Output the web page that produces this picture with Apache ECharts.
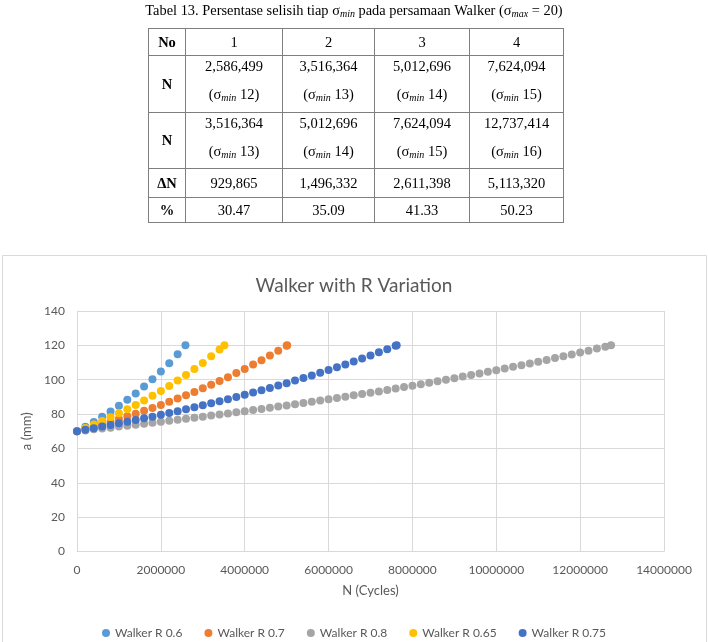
<!DOCTYPE html>
<html>
<head>
<meta charset="utf-8">
<script src="https://cdn.jsdelivr.net/npm/echarts@6/dist/echarts.min.js"></script>
<style>
  html, body { margin:0; padding:0; background:#fff; }
  #chart { position:absolute; left:0; top:0; width:708px; height:642px; }
  #cap { position:absolute; left:0; top:2px; width:708px; text-align:center;
         font-family:"Liberation Serif", serif; font-size:14.4px; line-height:17px; color:#000; z-index:2; }
  #cap sub { font-size:10px; font-style:italic; vertical-align:-2px; }
  #tbl { position:absolute; left:148px; top:28px; border-collapse:collapse; table-layout:fixed; z-index:2;
         font-family:"Liberation Serif", serif; font-size:14.5px; color:#000; }
  #tbl td { border:1px solid #7f7f7f; text-align:center; vertical-align:middle; padding:0; }
  #tbl td.h { font-weight:bold; }
  #tbl td.two { vertical-align:top; }
  #tbl td.two div.l1 { height:20px; line-height:20px; }
  #tbl td.two div.l2 { height:20px; line-height:20px; margin-top:8px; }
  #tbl sub { font-size:10px; font-style:italic; vertical-align:-2px; }
</style>
</head>
<body>
<div id="chart"></div>
<div id="cap">Tabel 13. Persentase selisih tiap σ<sub>min</sub> pada persamaan Walker (σ<sub>max</sub> = 20)</div>
<table id="tbl"></table>
<script>
// ---- table data ----
const tableCols = ["1", "2", "3", "4"];
const nFrom = ["2,586,499", "3,516,364", "5,012,696", "7,624,094"];
const sigmaFrom = ["12", "13", "14", "15"];
const nTo = ["3,516,364", "5,012,696", "7,624,094", "12,737,414"];
const sigmaTo = ["13", "14", "15", "16"];
const deltaN = ["929,865", "1,496,332", "2,611,398", "5,113,320"];
const percent = ["30.47", "35.09", "41.33", "50.23"];

// ---- chart data ----
const seriesNames = ["Walker R 0.6", "Walker R 0.7", "Walker R 0.8", "Walker R 0.65", "Walker R 0.75"];
const seriesColors = ["#5B9BD5", "#ED7D31", "#A5A5A5", "#FFC000", "#4472C4"];
const nSteps = [0,200000,400000,600000,800000,1000000,1200000,1400000,1600000,1800000,
  2000000,2200000,2400000,2600000,2800000,3000000,3200000,3400000,3600000,3800000,
  4000000,4200000,4400000,4600000,4800000,5000000,5200000,5400000,5600000,5800000,
  6000000,6200000,6400000,6600000,6800000,7000000,7200000,7400000,7600000,7800000,
  8000000,8200000,8400000,8600000,8800000,9000000,9200000,9400000,9600000,9800000,
  10000000,10200000,10400000,10600000,10800000,11000000,11200000,11400000,11600000,11800000,
  12000000,12200000,12400000,12600000];
const nFinal = [2586499, 5012696, 12737414, 3516364, 7624094];
const aR06 = [70.0,72.6,75.4,78.4,81.5,84.8,88.3,92.0,96.0,100.3,104.8,109.6,114.8,120.0];
const aR07 = [70.0,71.3,72.7,74.1,75.6,77.1,78.7,80.2,81.9,83.6,85.3,87.1,89.0,90.9,92.9,95.0,97.1,99.3,
  101.5,103.9,106.3,108.8,111.4,114.1,116.9,119.8,120.0];
const aR08 = [70.0,70.5,71.1,71.6,72.1,72.7,73.2,73.8,74.4,74.9,
  75.5,76.1,76.7,77.3,77.9,78.5,79.1,79.7,80.4,81.0,
  81.7,82.3,83.0,83.7,84.4,85.0,85.7,86.5,87.2,87.9,
  88.6,89.4,90.1,90.9,91.7,92.4,93.2,94.0,94.9,95.7,
  96.5,97.4,98.2,99.1,100.0,100.9,101.8,102.7,103.6,104.6,
  105.5,106.5,107.5,108.4,109.5,110.5,111.5,112.6,113.6,114.7,
  115.8,116.9,118.1,119.2,120.0];
const aR065 = [70.0,71.9,73.9,76.0,78.2,80.5,82.8,85.3,87.9,90.6,93.4,96.4,99.5,102.8,106.2,109.8,113.6,117.6,120.0];
const aR075 = [70.0,70.9,71.8,72.7,73.6,74.6,75.5,76.5,77.5,78.5,
  79.6,80.6,81.7,82.8,83.9,85.1,86.3,87.5,88.7,89.9,
  91.2,92.5,93.8,95.2,96.6,98.0,99.5,101.0,102.5,104.0,
  105.6,107.3,108.9,110.6,112.4,114.1,116.0,117.8,119.8,120.0];
const aValues = [aR06, aR07, aR08, aR065, aR075];
const xTicks = { min: 0, max: 14000000, interval: 2000000 };
const yTicks = { min: 0, max: 140, interval: 20 };

// ---- build table ----
(function () {
  const t = document.getElementById('tbl');
  const colW = [37, 97, 92, 95, 94];
  let html = '<colgroup>' + colW.map(w => '<col style="width:' + w + 'px">').join('') + '</colgroup>';
  const sig = s => '(σ<sub>min</sub> ' + s + ')';
  html += '<tr style="height:27px"><td class="h">No</td>' + tableCols.map(c => '<td>' + c + '</td>').join('') + '</tr>';
  html += '<tr style="height:57px"><td class="h">N</td>' + nFrom.map((v, i) => '<td class="two"><div class="l1">' + v + '</div><div class="l2">' + sig(sigmaFrom[i]) + '</div></td>').join('') + '</tr>';
  html += '<tr style="height:56px"><td class="h">N</td>' + nTo.map((v, i) => '<td class="two"><div class="l1">' + v + '</div><div class="l2">' + sig(sigmaTo[i]) + '</div></td>').join('') + '</tr>';
  html += '<tr style="height:29px"><td class="h">ΔN</td>' + deltaN.map(v => '<td>' + v + '</td>').join('') + '</tr>';
  html += '<tr style="height:25px"><td class="h">%</td>' + percent.map(v => '<td>' + v + '</td>').join('') + '</tr>';
  t.innerHTML = html;
})();

// ---- chart ----
const chart = echarts.init(document.getElementById('chart'), null, { renderer: 'canvas' });
const series = seriesNames.map((name, i) => {
  const ys = aValues[i];
  const xs = nSteps.slice(0, ys.length - 1).concat([nFinal[i]]);
  return {
    name: name,
    type: 'scatter',
    symbol: 'circle',
    symbolSize: 8,
    itemStyle: { color: seriesColors[i], opacity: 1 },
    data: ys.map((y, j) => [xs[j], y])
  };
});
const labelColor = '#595959';
const fontFam = 'Lato, "Open Sans", sans-serif';
chart.setOption({
  animation: false,
  color: seriesColors,
  textStyle: { fontFamily: fontFam },
  title: {
    text: 'Walker with R Variation',
    left: 'center',
    top: 271,
    textStyle: { fontFamily: fontFam, fontSize: 19, fontWeight: 'normal', color: labelColor }
  },
  grid: { left: 77, right: 44, top: 311, bottom: 90.5, containLabel: false },
  xAxis: {
    type: 'value',
    min: xTicks.min, max: xTicks.max, interval: xTicks.interval,
    name: 'N (Cycles)', nameLocation: 'middle', nameGap: 33,
    nameTextStyle: { fontFamily: fontFam, fontSize: 13, color: labelColor },
    axisLine: { show: true, lineStyle: { color: '#d9d9d9' } },
    axisTick: { show: false },
    axisLabel: { color: labelColor, fontSize: 12, fontFamily: fontFam, margin: 13, formatter: v => String(v) },
    splitLine: { show: true, lineStyle: { color: '#d9d9d9', width: 1 } }
  },
  yAxis: {
    type: 'value',
    min: yTicks.min, max: yTicks.max, interval: yTicks.interval,
    name: 'a (mm)', nameLocation: 'middle', nameGap: 35, nameRotate: 90,
    nameTextStyle: { fontFamily: fontFam, fontSize: 13, color: labelColor },
    axisLine: { show: false },
    axisTick: { show: false },
    axisLabel: { color: labelColor, fontSize: 12, fontFamily: fontFam, margin: 12 },
    splitLine: { show: true, lineStyle: { color: '#d9d9d9', width: 1 } }
  },
  legend: {
    data: seriesNames,
    top: 622,
    left: 'center',
    icon: 'circle',
    itemWidth: 8, itemHeight: 8, itemGap: 22,
    textStyle: { color: labelColor, fontSize: 12, fontFamily: fontFam }
  },
  graphic: [{
    type: 'rect', silent: true, z: -1,
    shape: { x: 2.5, y: 255.5, width: 704, height: 392 },
    style: { fill: null, stroke: '#d9d9d9', lineWidth: 1 }
  }],
  series: series
});
</script>
</body>
</html>
